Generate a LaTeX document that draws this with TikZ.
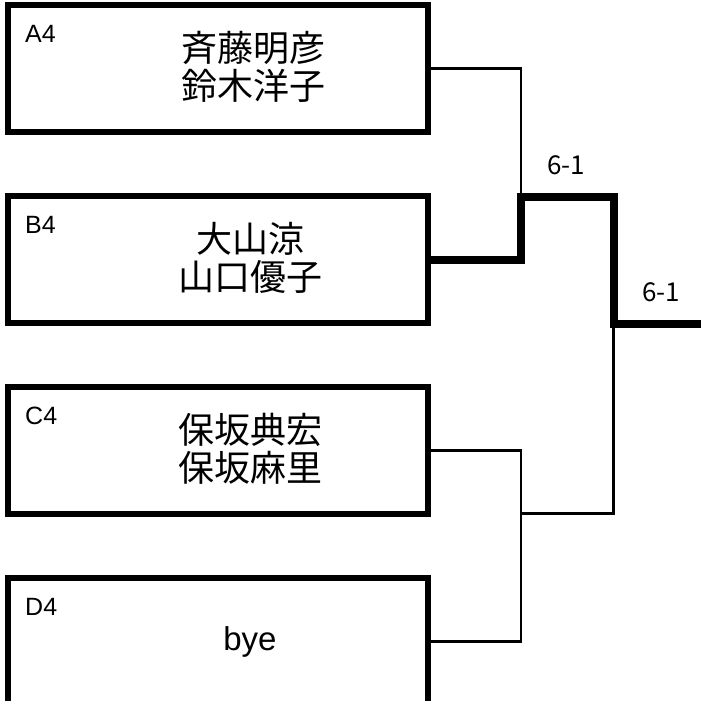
\documentclass[tikz,border=0pt]{standalone}
\usepackage{fontspec}
\setmainfont{Liberation Sans}
\newfontfamily\jpfont{Noto Sans CJK JP}
\usetikzlibrary{positioning}

\begin{document}
\begin{tikzpicture}[
    x=1pt, y=-1pt,
    entry/.style={rectangle, draw, line width=6pt, minimum width=420pt, minimum height=127pt, inner sep=0pt},
    seed/.style={anchor=north west, inner sep=0pt, font=\fontsize{25}{25}\selectfont},
    pair/.style={align=center, inner sep=0pt, font=\jpfont\fontsize{36}{38}\selectfont},
    score/.style={inner sep=0pt, font=\jpfont\fontsize{26}{26}\selectfont},
    loser/.style={line width=2.5pt},
    winner/.style={line width=8pt}
  ]
    \useasboundingbox (0,0) rectangle (701,701);

    % Entries
    \foreach \i/\s in {1/A4,2/B4,3/C4,4/D4} {
      \node[entry] (entry\i) at (218,{68.5+191*(\i-1)}) {};
      \node[seed] (seed\i) at ([xshift=20pt,yshift=-23pt]entry\i.north west) {\s};
    }

    % Players
    \node[pair] (names1) at ([xshift=35pt,yshift=2pt]entry1.center) {斉藤明彦\\鈴木洋子};
    \node[pair] (names2) at ([xshift=32pt,yshift=2pt]entry2.center) {大山涼\\山口優子};
    \node[pair] (names3) at ([xshift=32pt,yshift=2pt]entry3.center) {保坂典宏\\保坂麻里};
    \node[inner sep=0pt, font=\fontsize{33}{33}\selectfont] (names4) at ([xshift=32pt]entry4.center) {bye};

    % Junctions
    \coordinate (top) at (521,197);
    \coordinate (bottom) at (521,513.5);
    \coordinate (final) at (613.5,323.5);
    \coordinate (champion) at (701,323.5);

    % Bracket lines
    \draw[loser] (entry1.east) -| (top);
    \draw[winner] (entry2.east) -| (top) -| (final) -- (champion);
    \draw[loser] (entry3.east) -| (bottom) |- (entry4.east);
    \draw[loser] (bottom) -| (final);

    % Scores
    \node[score] (score1) at (566,165.5) {6-1};
    \node[score] (score2) at (661,292) {6-1};

  \end{tikzpicture}
\end{document}
